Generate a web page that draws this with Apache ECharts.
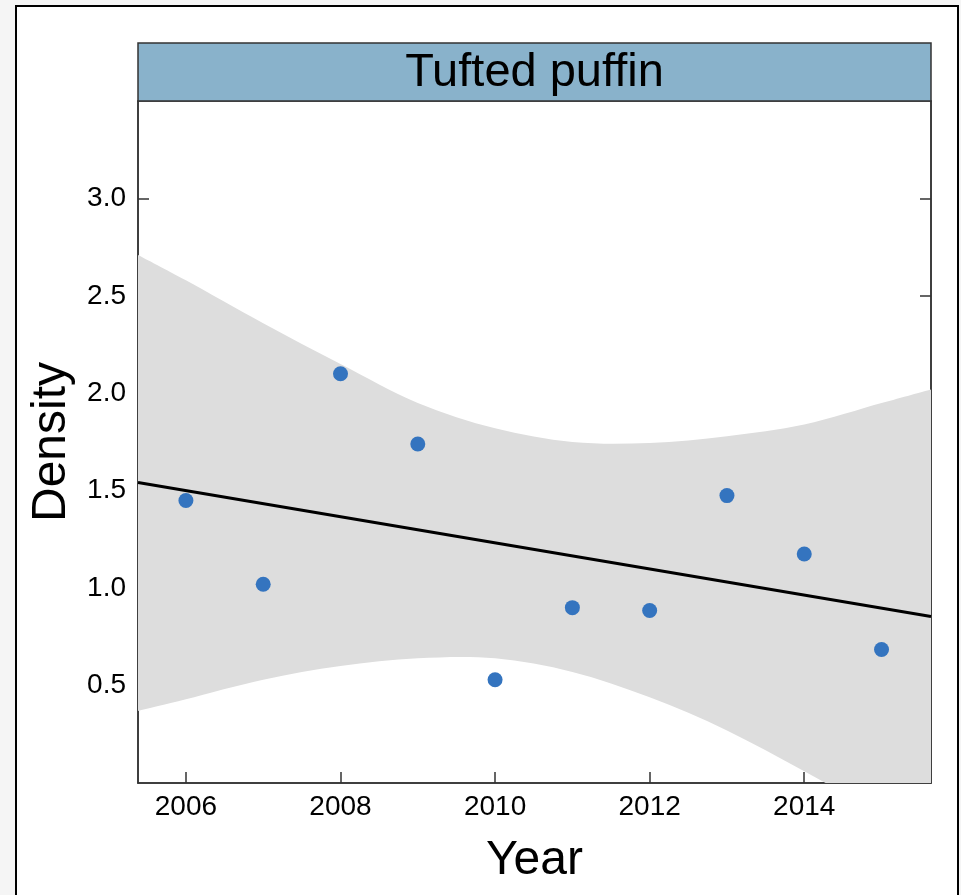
<!DOCTYPE html>
<html>
<head>
<meta charset="utf-8">
<style>
  html, body { margin: 0; padding: 0; background: #f5f5f5; }
  #chart { width: 961px; height: 895px; }
</style>
<script src="https://cdn.jsdelivr.net/npm/echarts@6/dist/echarts.min.js"></script>
</head>
<body>
<div id="chart"></div>
<script>
// ---- data ----
const panelTitle = 'Tufted puffin';
const years = [2006, 2007, 2008, 2009, 2010, 2011, 2012, 2013, 2014, 2015];
const density = [1.45, 1.02, 2.10, 1.74, 0.53, 0.90, 0.885, 1.475, 1.175, 0.685];
const fitX = [2005.38, 2015.64];
const fitY = [1.542, 0.854];
const bandX = [2005.38, 2006, 2007, 2008, 2009, 2010, 2011, 2012, 2013, 2014, 2015, 2015.64];
const bandUpper = [2.71, 2.58, 2.36, 2.15, 1.95, 1.82, 1.75, 1.745, 1.78, 1.84, 1.95, 2.02];
const bandLower = [0.37, 0.43, 0.53, 0.60, 0.64, 0.64, 0.57, 0.44, 0.27, 0.06, -0.16, -0.30];
const xTicks = [2006, 2008, 2010, 2012, 2014];
const yTicks = [0.5, 1.0, 1.5, 2.0, 2.5, 3.0];

const FONT = 'Liberation Sans, Arial, sans-serif';
const chart = echarts.init(document.getElementById('chart'), null, { renderer: 'canvas' });

const gridL = 138, gridR = 30, gridT = 101, gridB = 112;

// smooth open curve through pixel points (Catmull-Rom as cubic Bezier)
function curveSegs(P) {
  let d = '';
  const n = P.length;
  for (let i = 0; i < n - 1; i++) {
    const p0 = P[Math.max(i - 1, 0)], p1 = P[i], p2 = P[i + 1], p3 = P[Math.min(i + 2, n - 1)];
    const c1 = [p1[0] + (p2[0] - p0[0]) / 6, p1[1] + (p2[1] - p0[1]) / 6];
    const c2 = [p2[0] - (p3[0] - p1[0]) / 6, p2[1] - (p3[1] - p1[1]) / 6];
    d += ' C' + c1[0] + ' ' + c1[1] + ' ' + c2[0] + ' ' + c2[1] + ' ' + p2[0] + ' ' + p2[1];
  }
  return d;
}

chart.setOption({
  backgroundColor: 'transparent',
  animation: false,
  graphic: [
    { type: 'rect', z: -10, shape: { x: 16, y: 6, width: 942, height: 920 },
      style: { fill: '#ffffff', stroke: '#000000', lineWidth: 2 } },
    { type: 'rect', z: 10, shape: { x: gridL, y: 43, width: 961 - gridL - gridR, height: 58 },
      style: { fill: '#89b2cb', stroke: '#333333', lineWidth: 1.5 } },
    { type: 'text', z: 11, x: gridL + (961 - gridL - gridR) / 2, y: 73,
      style: { text: panelTitle, fill: '#000', font: '47px ' + FONT, align: 'center', verticalAlign: 'middle' } }
  ],
  grid: { left: gridL, right: gridR, top: gridT, bottom: gridB, show: true,
          borderColor: '#333', borderWidth: 1.5, backgroundColor: 'transparent' },
  xAxis: {
    type: 'value', min: 2005.38, max: 2015.64,
    splitLine: { show: false },
    axisLine: { show: true, lineStyle: { color: '#333', width: 1.5 } },
    axisTick: { show: true, inside: true, length: 11, customValues: xTicks, lineStyle: { color: '#333', width: 1.5 } },
    axisLabel: { customValues: xTicks, margin: 10, color: '#000', fontSize: 28, fontFamily: FONT,
                 formatter: v => String(v) },
    name: 'Year', nameLocation: 'middle', nameGap: 54,
    nameTextStyle: { color: '#000', fontSize: 48, fontFamily: FONT }
  },
  yAxis: [{
    type: 'value', min: 0, max: 3.5,
    splitLine: { show: false },
    axisLine: { show: true, lineStyle: { color: '#333', width: 1.5 } },
    axisTick: { show: true, inside: true, length: 11, customValues: yTicks, lineStyle: { color: '#333', width: 1.5 } },
    axisLabel: { customValues: yTicks, margin: 12, color: '#000', fontSize: 28, fontFamily: FONT,
                 formatter: v => v.toFixed(1) },
    name: 'Density', nameLocation: 'middle', nameGap: 61, nameRotate: 90,
    nameTextStyle: { color: '#000', fontSize: 48, fontFamily: FONT }
  }, {
    type: 'value', min: 0, max: 3.5, position: 'right',
    splitLine: { show: false },
    axisLine: { show: true, lineStyle: { color: '#333', width: 1.5 } },
    axisTick: { show: true, inside: true, length: 11, customValues: yTicks, lineStyle: { color: '#333', width: 1.5 } },
    axisLabel: { show: false }
  }],
  series: [
    {
      type: 'custom', z: 1, clip: true, silent: true,
      data: [0],
      renderItem: function (params, api) {
        const up = bandX.map((x, i) => api.coord([x, bandUpper[i]]));
        const lo = bandX.map((x, i) => api.coord([x, bandLower[i]])).reverse();
        let d = 'M' + up[0][0] + ' ' + up[0][1] + curveSegs(up);
        d += ' L' + lo[0][0] + ' ' + lo[0][1] + curveSegs(lo) + ' Z';
        const cs = params.coordSys;
        return {
          type: 'path',
          shape: { pathData: d },
          style: { fill: '#dddddd', stroke: null },
          clipPath: { type: 'rect', shape: { x: cs.x, y: cs.y, width: cs.width, height: cs.height } }
        };
      }
    },
    {
      type: 'line', z: 3, symbol: 'none', silent: true,
      data: fitX.map((x, i) => [x, fitY[i]]),
      lineStyle: { color: '#000', width: 3 }
    },
    {
      type: 'scatter', z: 4, symbolSize: 15,
      data: years.map((y, i) => [y, density[i]]),
      itemStyle: { color: '#3474bf', opacity: 1 }
    }
  ]
});
</script>
</body>
</html>
